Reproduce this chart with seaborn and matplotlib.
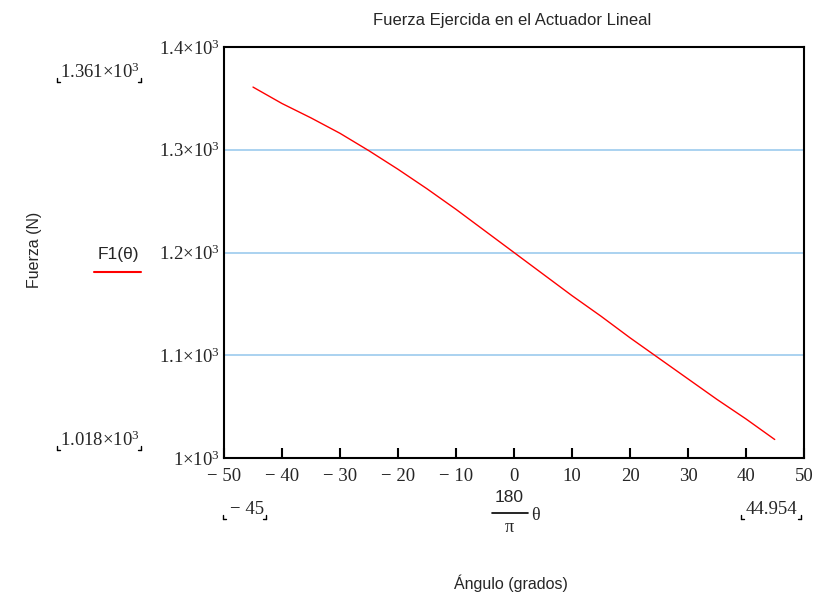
import matplotlib
matplotlib.use("Agg")
import matplotlib.pyplot as plt
import seaborn as sns
import pandas as pd
from matplotlib.lines import Line2D

angle_deg = [-45, -40, -35, -30, -25, -20, -15, -10, -5, 0, 5, 10, 15, 20, 25, 30, 35, 40, 44.954]
force_n = [1361, 1345, 1331, 1316, 1299, 1281, 1262, 1242, 1221, 1200, 1179, 1158, 1138, 1117, 1097, 1077, 1057, 1038, 1018]
x_ticks = [-50, -40, -30, -20, -10, 0, 10, 20, 30, 40, 50]
x_tick_labels = ["\u2212 50", "\u2212 40", "\u2212 30", "\u2212 20", "\u2212 10", "0", "10", "20", "30", "40", "50"]
y_ticks = [1000, 1100, 1200, 1300, 1400]
y_tick_labels = [r"$1{\times}10^{3}$", r"$1.1{\times}10^{3}$", r"$1.2{\times}10^{3}$", r"$1.3{\times}10^{3}$", r"$1.4{\times}10^{3}$"]

sns.set_theme(style="white")
plt.rcParams["font.family"] = ["Liberation Sans", "DejaVu Sans"]
plt.rcParams["mathtext.fontset"] = "custom"
plt.rcParams["mathtext.rm"] = "Liberation Serif"
plt.rcParams["mathtext.it"] = "Liberation Serif:italic"

df = pd.DataFrame({"angle": angle_deg, "force": force_n})

fig = plt.figure(figsize=(8.32, 6.0), dpi=100)
ax = fig.add_axes([224/832, 1-458/600, (804-224)/832, (458-47)/600])
sns.lineplot(data=df, x="angle", y="force", ax=ax, color="#ff0000", linewidth=1.0)

ax.set_xlim(-50, 50)
ax.set_ylim(1000, 1400)
for v in [1100, 1200, 1300]:
    ax.axhline(v, color="#9ccbee", linewidth=1.2, zorder=0)

ax.set_xticks(x_ticks)
ax.set_xticklabels(x_tick_labels, fontfamily="Liberation Serif", fontsize=13.5)
ax.set_yticks(y_ticks)
ax.set_yticklabels(y_tick_labels, fontsize=13.5)
ax.tick_params(axis="x", direction="in", length=7, width=1.5, color="black", pad=7, bottom=True)
ax.tick_params(axis="y", length=0, pad=3)
for s in ax.spines.values():
    s.set_color("black")
    s.set_linewidth(1.5)
ax.set_xlabel("")
ax.set_ylabel("")

fig.text(512/832, 1-20/600, "Fuerza Ejercida en el Actuador Lineal", ha="center", va="center", fontsize=12)
fig.text(35/832, 1-250/600, "Fuerza (N)", rotation=90, ha="center", va="center", fontsize=11.5)
fig.text(118/832, 1-254/600, "F1(\u03b8)", ha="center", va="center", fontsize=12.5)
fig.lines.append(Line2D([94/832, 141/832], [1-272/600, 1-272/600], color="#ff0000", linewidth=1.5, transform=fig.transFigure))
fig.text(100/832, 1-72/600, r"$1.361{\times}10^{3}$", ha="center", va="center", fontsize=13.5)
fig.text(100/832, 1-440/600, r"$1.018{\times}10^{3}$", ha="center", va="center", fontsize=13.5)
fig.text(247/832, 1-509/600, "\u2212 45", ha="center", va="center", fontsize=13.5, fontfamily="Liberation Serif")
fig.text(771/832, 1-509/600, "44.954", ha="center", va="center", fontsize=13.5, fontfamily="Liberation Serif")
fig.text(509/832, 1-498/600, "180", ha="center", va="center", fontsize=12.5)
fig.lines.append(Line2D([492/832, 528/832], [1-513/600, 1-513/600], color="black", linewidth=1.2, transform=fig.transFigure))
fig.text(509/832, 1-528/600, "\u03c0", ha="center", va="center", fontsize=13, fontfamily="Liberation Serif")
fig.text(535/832, 1-515/600, "\u03b8", ha="center", va="center", fontsize=13, fontfamily="Liberation Serif")
fig.text(511/832, 1-583/600, "\u00c1ngulo (grados)", ha="center", va="center", fontsize=11.5)

def corners(x0, x1, y):
    for xx, dx in [(x0, 3), (x1, -3)]:
        fig.lines.append(Line2D([xx/832, xx/832], [1-(y-4)/600, 1-y/600], color="black", linewidth=1, transform=fig.transFigure))
        fig.lines.append(Line2D([xx/832, (xx+dx)/832], [1-y/600, 1-y/600], color="black", linewidth=1, transform=fig.transFigure))

corners(57, 141, 82)
corners(57, 141, 450)
corners(223, 266, 519)
corners(741, 801, 519)

fig.savefig("out.png", dpi=100)
